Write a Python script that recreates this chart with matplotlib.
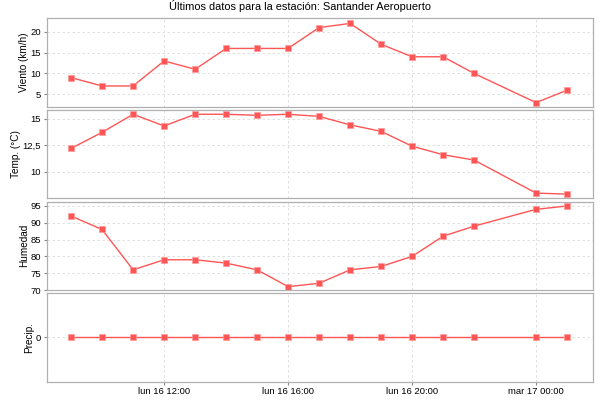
import matplotlib

matplotlib.use("Agg")
import matplotlib.pyplot as plt
import matplotlib.dates as mdates
import numpy as np
from datetime import datetime, timedelta

plt.rcParams["font.family"] = ["Liberation Sans", "DejaVu Sans"]

# observation hours (relative to lun 16 00:00)
hours = [9, 10, 11, 12, 13, 14, 15, 16, 17, 18, 19, 20, 21, 22, 24, 25]
viento = [9, 7, 7, 13, 11, 16, 16, 16, 21, 22, 17, 14, 14, 10, 3, 6]
temp = [12.2, 13.7, 15.4, 14.3, 15.4, 15.4, 15.3, 15.4, 15.2, 14.4, 13.8, 12.4, 11.6, 11.1, 8.0, 7.9]
humedad = [92, 88, 76, 79, 79, 78, 76, 71, 72, 76, 77, 80, 86, 89, 94, 95]
precip = [0, 0, 0, 0, 0, 0, 0, 0, 0, 0, 0, 0, 0, 0, 0, 0]

day0 = datetime(2014, 6, 16)
times = [day0 + timedelta(hours=h) for h in hours]

RED = "#ff5555"
GRID = "#dadada"
EDGE = "#b0b0b0"
FS = 6.8
DIAS = ["lun", "mar", "mié", "jue", "vie", "sáb", "dom"]


def fmt_date(x, pos=None):
    d = mdates.num2date(x)
    return f"{DIAS[d.weekday()]} {d.day} {d:%H:%M}"


panels = [
    ("Viento (km/h)", viento, (2.0, 23.2), [5, 10, 15, 20], ["5", "10", "15", "20"]),
    ("Temp. (°C)", temp, (7.5, 15.8), [10, 12.5, 15], ["10", "12,5", "15"]),
    ("Humedad", humedad, (70, 96.3), [70, 75, 80, 85, 90, 95], ["70", "75", "80", "85", "90", "95"]),
    ("Precip.", precip, (-1, 1), [0], ["0"]),
]

fig, axes = plt.subplots(4, 1, figsize=(6, 4), dpi=100, sharex=True, facecolor="white")
fig.subplots_adjust(left=0.078, right=0.988, top=0.954, bottom=0.046, hspace=0.036)

for ax, (label, vals, ylim, ticks, tlabels) in zip(axes, panels):
    ax.plot(times, vals, color=RED, linewidth=1.0, marker="s", markersize=4.6,
            markerfacecolor=RED, markeredgecolor="#ff9a9a", markeredgewidth=0.5)
    ax.set_ylim(*ylim)
    ax.set_yticks(ticks)
    ax.set_yticklabels(tlabels)
    ax.set_ylabel(label, fontsize=FS + 0.4, labelpad=1)
    ax.grid(True, color=GRID, linestyle=(0, (3, 3)), linewidth=0.6)
    ax.set_axisbelow(True)
    for s in ax.spines.values():
        s.set_color(EDGE)
        s.set_linewidth(0.9)
    ax.tick_params(axis="both", labelsize=FS, length=2, width=0.8, color="#888888", pad=2)
    ax.tick_params(axis="x", which="both", bottom=(ax is axes[-1]))

axes[-1].set_xlim(day0 + timedelta(hours=8.216), day0 + timedelta(hours=25.83))
axes[-1].xaxis.set_major_locator(mdates.HourLocator(byhour=[0, 12, 16, 20]))
axes[-1].xaxis.set_major_formatter(plt.FuncFormatter(fmt_date))

fig.suptitle("Últimos datos para la estación: Santander Aeropuerto", x=0.5, y=0.999,
             va="top", fontsize=FS + 1.1)

fig.savefig("out.png", dpi=100, facecolor="white")
